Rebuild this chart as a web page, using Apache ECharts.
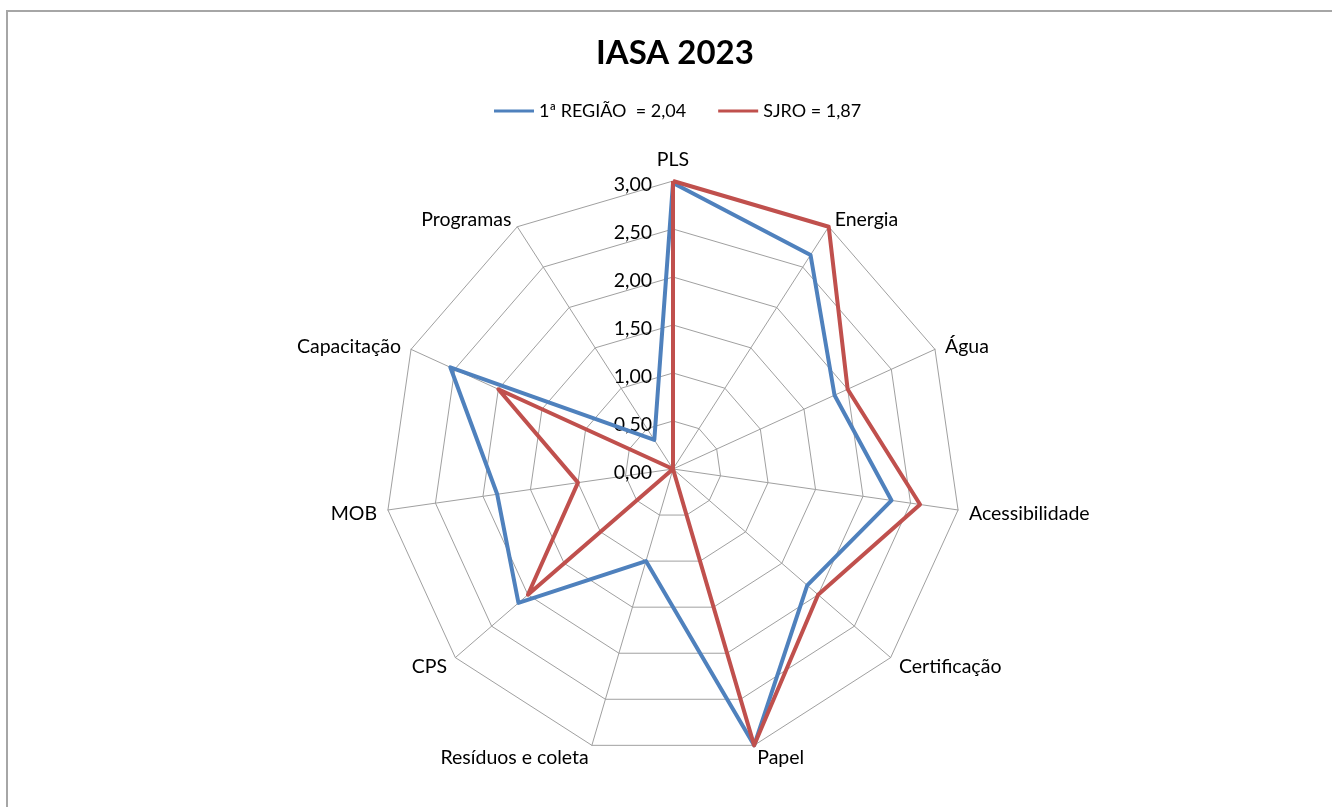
<!DOCTYPE html>
<html><head><meta charset="utf-8">
<script src="https://cdn.jsdelivr.net/npm/echarts@6/dist/echarts.min.js"></script>
<style>
html,body{margin:0;padding:0;background:#fff;overflow:hidden;}
#c{position:absolute;left:0;top:0;width:1332px;height:807px;}
#b{position:absolute;left:6px;top:10px;width:1400px;height:900px;border-left:2px solid #a6a6a6;border-top:2px solid #a6a6a6;pointer-events:none;}
</style>
</head><body><div id="c"></div><div id="b"></div>
<script>
const categories = ['PLS','Energia','Água','Acessibilidade','Certificação','Papel','Resíduos e coleta','CPS','MOB','Capacitação','Programas'];
const regiao = [2.98, 2.65, 1.85, 2.30, 1.85, 3.00, 1.00, 2.13, 1.85, 2.55, 0.36];
const sjro   = [3.00, 3.00, 2.00, 2.60, 2.00, 3.00, 0.00, 2.00, 1.00, 2.00, 0.00];
const seriesNames = ['1ª REGIÃO  = 2,04', 'SJRO = 1,87'];
const axisMin = 0, axisMax = 3, splits = 6;

const FONT = 'Lato';
// display order clockwise (ECharts draws indicators counter-clockwise)
const order = [0].concat(categories.map((_, i) => i).slice(1).reverse());
const fmt = v => '{t|' + Number(v).toFixed(2).replace('.', ',') + '}';

const indicator = order.map((i, k) => {
  const o = { name: categories[i], min: axisMin, max: axisMax };
  if (k === 0) o.axisLabel = { show: true };
  return o;
});
const reorder = arr => order.map(i => arr[i]);

const chart = echarts.init(document.getElementById('c'), null, { renderer: 'canvas' });
chart.setOption({
  animation: false,
  backgroundColor: '#ffffff',
  title: {
    text: 'IASA 2023', left: 591, top: 32,
    textStyle: { fontFamily: FONT, fontSize: 33, fontWeight: 'bold', color: '#000' }
  },
  legend: {
    top: 97, left: 489, icon: 'rect', itemWidth: 40, itemHeight: 3, itemGap: 32,
    textStyle: { fontFamily: FONT, fontSize: 18, color: '#000' },
    data: seriesNames
  },
  radar: {
    center: [673, 469], radius: 288, shape: 'polygon', splitNumber: splits,
    startAngle: 90,
    indicator: indicator,
    axisName: {
      color: '#000', fontFamily: FONT, fontSize: 19.5,
      formatter: n => '{n|' + n + '}',
      rich: { n: { fontFamily: FONT, fontSize: 19.5, color: '#000', padding: [4, 0, 0, 0] } }
    },
    nameGap: 11,
    axisLine: { lineStyle: { color: '#a0a0a0', width: 1 } },
    splitLine: { lineStyle: { color: '#a0a0a0', width: 1 } },
    splitArea: { show: false },
    axisTick: { show: false },
    axisLabel: {
      show: false, formatter: fmt, color: '#000', fontFamily: FONT, fontSize: 19.5, margin: 21,
      rich: { t: { fontFamily: FONT, fontSize: 19.5, color: '#000', padding: [7, 0, 0, 0] } }
    }
  },
  series: [{
    type: 'radar', symbol: 'none',
    data: [
      { name: seriesNames[0], value: reorder(regiao), lineStyle: { color: '#4f81bd', width: 4 }, itemStyle: { color: '#4f81bd' } },
      { name: seriesNames[1], value: reorder(sjro), lineStyle: { color: '#c0504d', width: 4 }, itemStyle: { color: '#c0504d' } }
    ]
  }]
});
</script></body></html>
